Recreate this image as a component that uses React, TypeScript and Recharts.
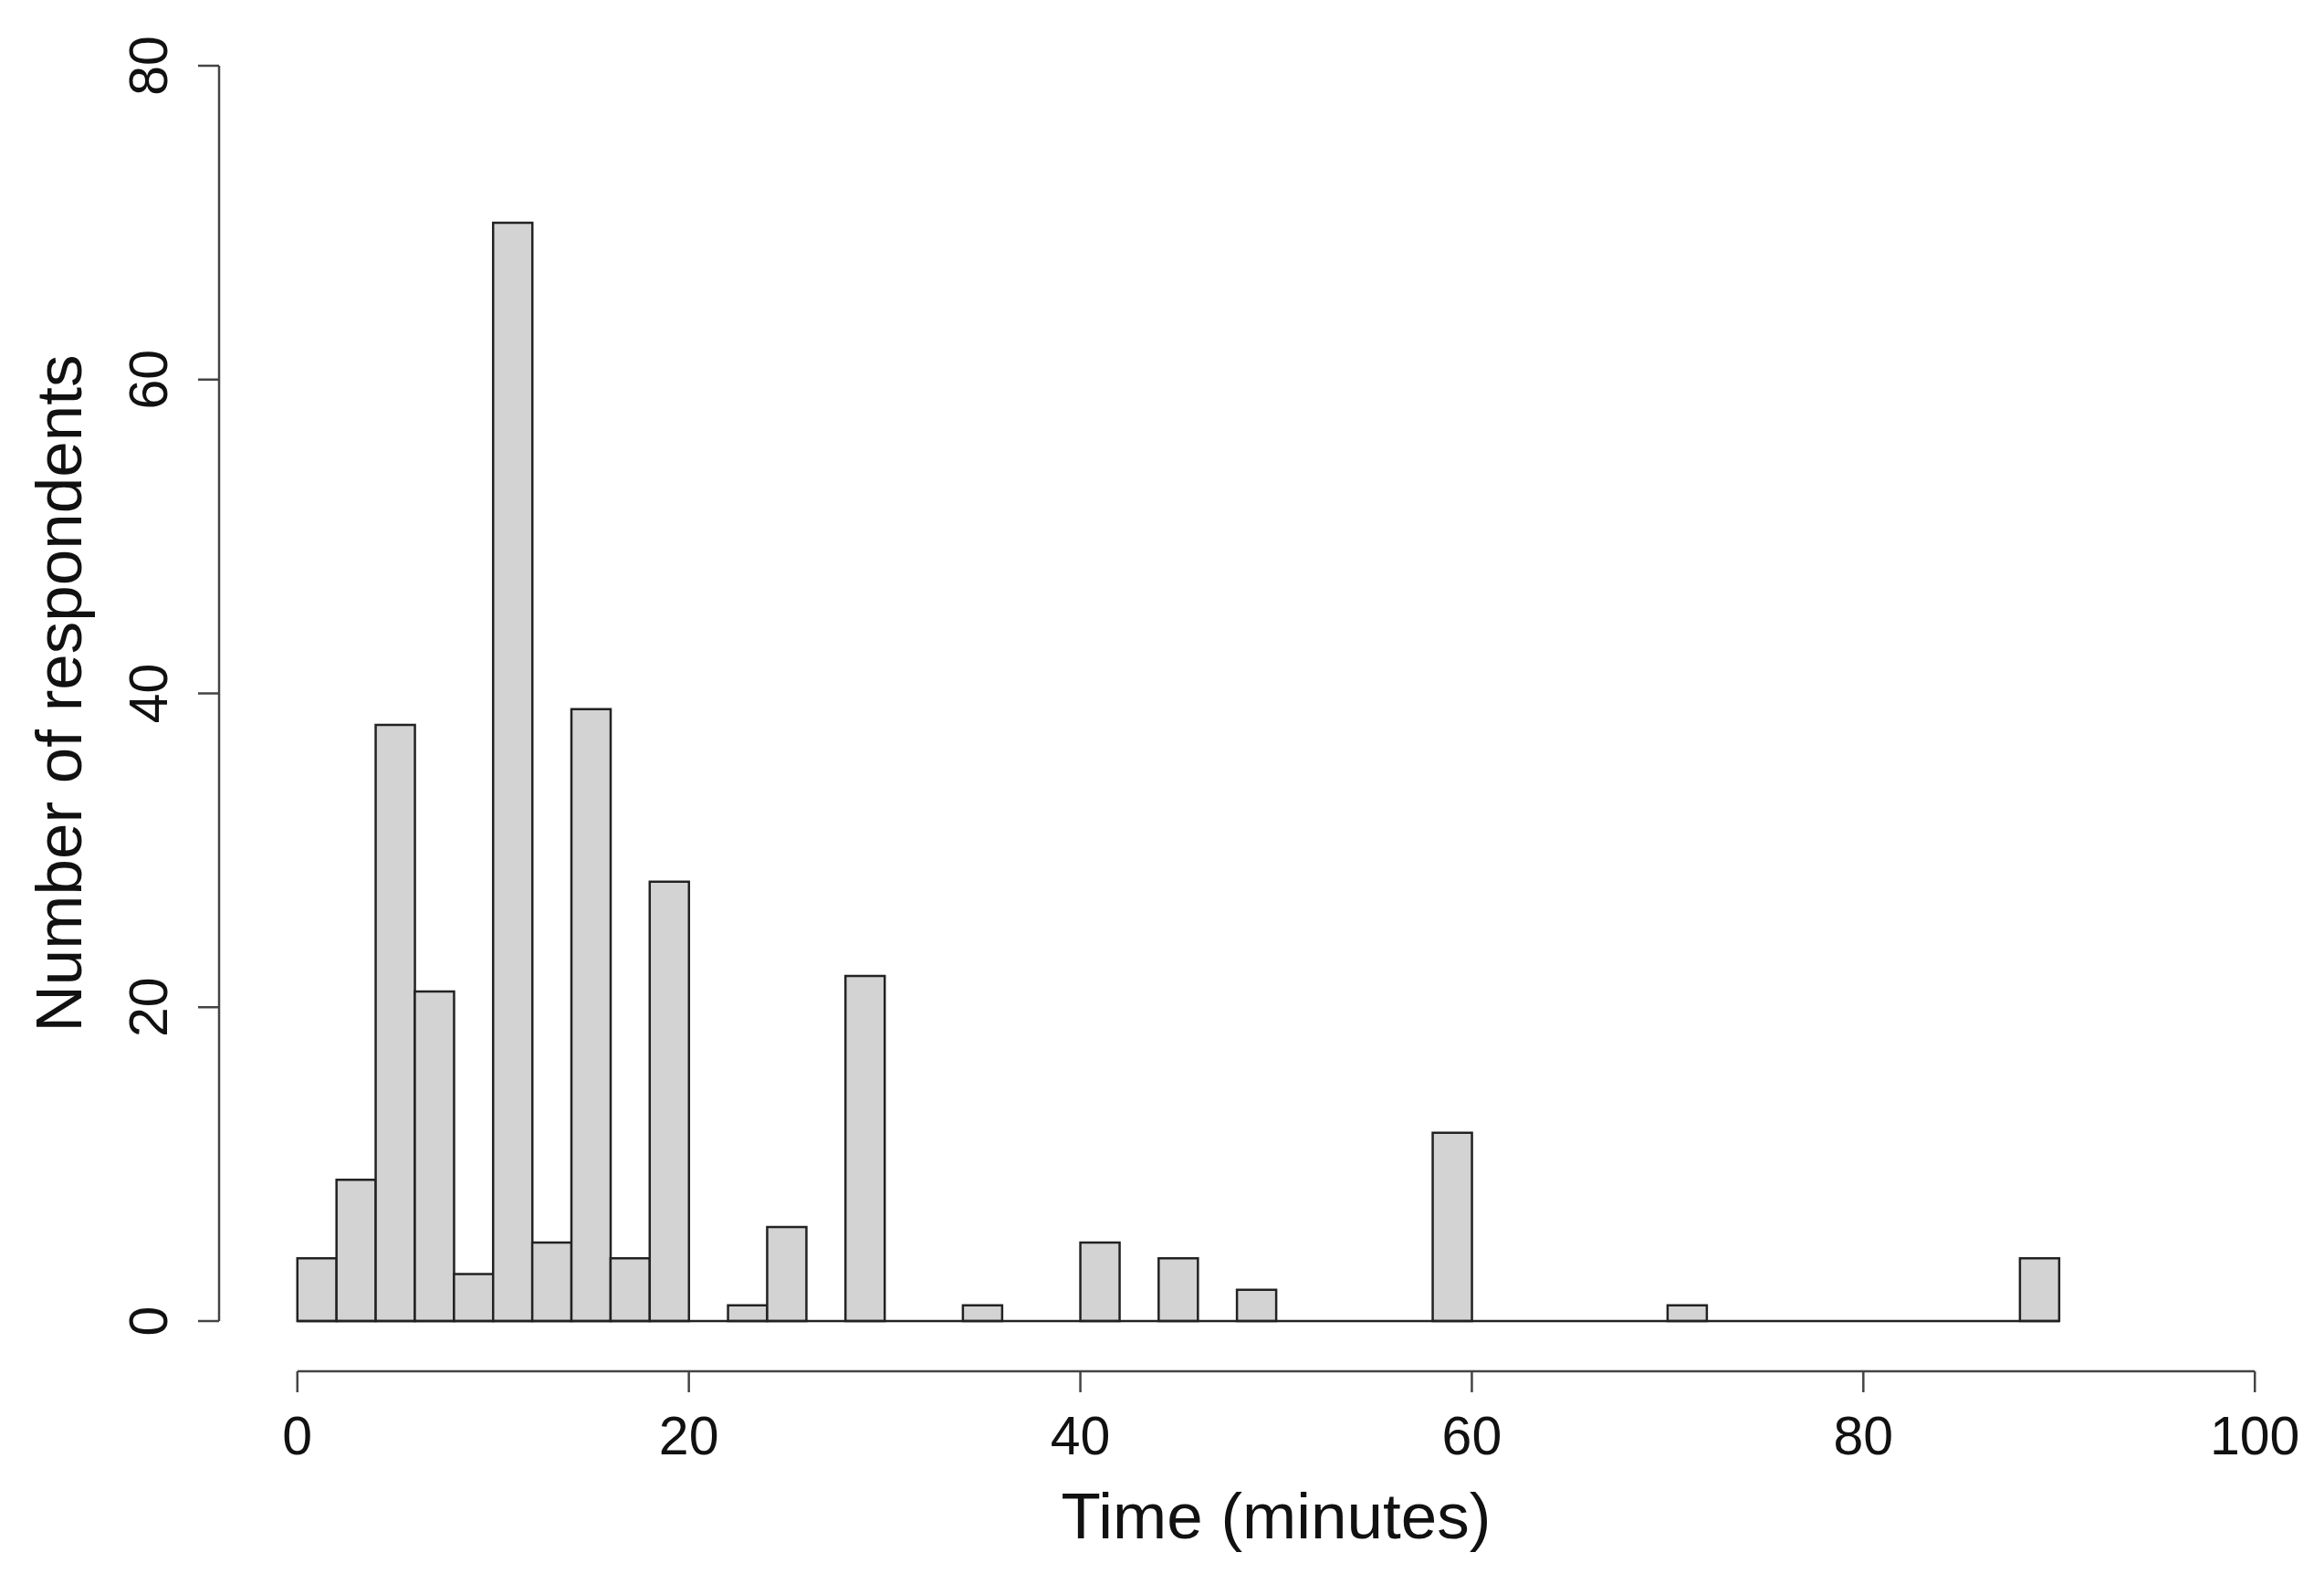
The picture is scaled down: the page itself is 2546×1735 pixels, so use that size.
import { ComposedChart, Bar, XAxis, YAxis, ReferenceLine, Label } from 'recharts';

// histogram bin edges (minutes) and respondent counts per bin
const BIN_EDGES = [0, 2, 4, 6, 8, 10, 12, 14, 16, 18, 20, 22, 24, 26, 28, 30, 32, 34, 36, 38, 40, 42, 44, 46, 48, 50, 52, 54, 56, 58, 60, 62, 64, 66, 68, 70, 72, 74, 76, 78, 80, 82, 84, 86, 88, 90];
const COUNTS = [4, 9, 38, 21, 3, 70, 5, 39, 4, 28, 0, 1, 6, 0, 22, 0, 0, 1, 0, 0, 5, 0, 4, 0, 2, 0, 0, 0, 0, 12, 0, 0, 0, 0, 0, 1, 0, 0, 0, 0, 0, 0, 0, 0, 4];

const X_TICKS = [0, 20, 40, 60, 80, 100];
const Y_TICKS = [0, 20, 40, 60, 80];
const X_DOMAIN = [-4, 104];
const Y_DOMAIN = [-3.2, 83.2];

const FONT = 'Liberation Sans, Arial, Helvetica, sans-serif';
const AXIS_COLOR = '#444';

const data = COUNTS.map((count, i) => ({
    mid: (BIN_EDGES[i] + BIN_EDGES[i + 1]) / 2,
    count,
}));

const XTick = ({ x, y, payload }: any) => (
    <g>
        <line x1={x} x2={x} y1={y} y2={y + 23} stroke={AXIS_COLOR} strokeWidth={2.5} />
        <text x={x} y={y + 91} textAnchor="middle" fontSize={59} fontFamily={FONT} fill="#111">
            {payload.value}
        </text>
    </g>
);

const YTick = ({ x, y, payload }: any) => (
    <g>
        <line x1={x - 23} x2={x} y1={y} y2={y} stroke={AXIS_COLOR} strokeWidth={2.5} />
        <text
            x={x - 57}
            y={y}
            transform={`rotate(-90, ${x - 57}, ${y})`}
            textAnchor="middle"
            fontSize={59}
            fontFamily={FONT}
            fill="#111"
        >
            {payload.value}
        </text>
    </g>
);

export default function App() {
    return (
        <div style={{ position: 'absolute', left: 0, top: 0, width: 2546, height: 1735, overflow: 'hidden', background: '#fff' }}>
            <ComposedChart
                width={2600}
                height={1735}
                data={data}
                margin={{ top: 17, right: 44, bottom: 0, left: 0 }}
                barCategoryGap={0}
                barGap={0}
            >
                <XAxis
                    dataKey="mid"
                    type="number"
                    domain={X_DOMAIN}
                    ticks={X_TICKS}
                    interval={0}
                    height={233}
                    axisLine={false}
                    tickLine={false}
                    tickSize={0}
                    tickMargin={0}
                    tick={<XTick />}
                >
                    <Label
                        content={({ viewBox }: any) => (
                            <text
                                x={viewBox.x + viewBox.width / 2}
                                y={viewBox.y + 183}
                                textAnchor="middle"
                                fontSize={71}
                                fontFamily={FONT}
                                fill="#111"
                            >
                                Time (minutes)
                            </text>
                        )}
                    />
                </XAxis>
                <YAxis
                    type="number"
                    domain={Y_DOMAIN}
                    ticks={Y_TICKS}
                    interval={0}
                    width={240}
                    axisLine={false}
                    tickLine={false}
                    tickSize={0}
                    tickMargin={0}
                    tick={<YTick />}
                >
                    <Label
                        content={({ viewBox }: any) => {
                            const cx = 89;
                            const cy = viewBox.y + viewBox.height / 2;
                            return (
                                <text
                                    x={cx}
                                    y={cy}
                                    transform={`rotate(-90, ${cx}, ${cy})`}
                                    textAnchor="middle"
                                    fontSize={71}
                                    fontFamily={FONT}
                                    fill="#111"
                                >
                                    Number of respondents
                                </text>
                            );
                        }}
                    />
                </YAxis>
                <ReferenceLine
                    segment={[{ x: X_DOMAIN[0], y: Y_TICKS[0] }, { x: X_DOMAIN[0], y: Y_TICKS[Y_TICKS.length - 1] }]}
                    stroke={AXIS_COLOR}
                    strokeWidth={2.5}
                    ifOverflow="visible"
                />
                <ReferenceLine
                    segment={[{ x: X_TICKS[0], y: Y_DOMAIN[0] }, { x: X_TICKS[X_TICKS.length - 1], y: Y_DOMAIN[0] }]}
                    stroke={AXIS_COLOR}
                    strokeWidth={2.5}
                    ifOverflow="visible"
                />
                <ReferenceLine
                    segment={[{ x: BIN_EDGES[0], y: 0 }, { x: BIN_EDGES[BIN_EDGES.length - 1], y: 0 }]}
                    stroke="#222"
                    strokeWidth={2.5}
                    ifOverflow="visible"
                />
                <Bar
                    dataKey="count"
                    fill="#d3d3d3"
                    stroke="#222"
                    strokeWidth={2.5}
                    isAnimationActive={false}
                />
            </ComposedChart>
        </div>
    );
}
